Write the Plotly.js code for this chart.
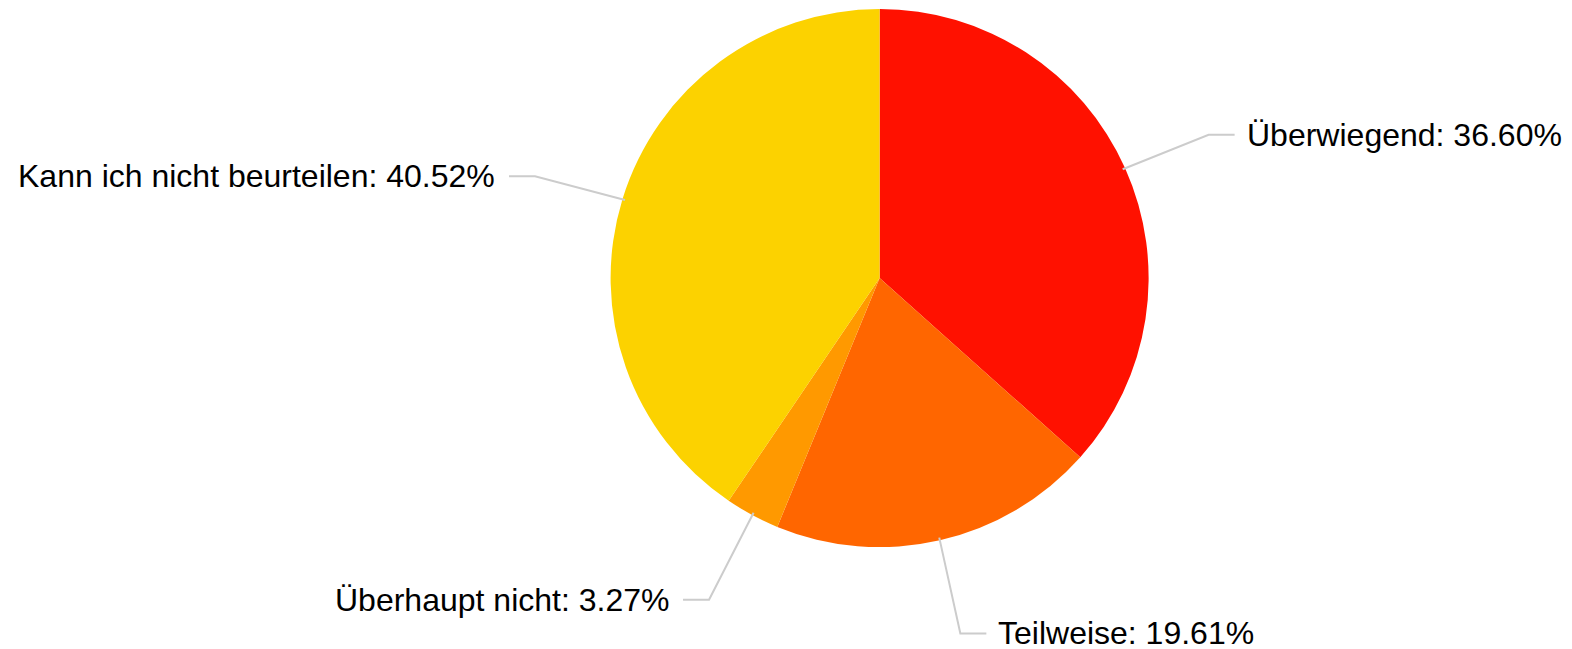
<!DOCTYPE html>
<html>
<head>
<meta charset="utf-8">
<script src="https://cdn.plot.ly/plotly-3.0.1.min.js"></script>
<style>html,body{margin:0;padding:0;background:#fff;}#chart{width:1572px;height:649px;}</style>
</head>
<body>
<div id="chart"></div>
<script>
const labels = ["Überwiegend", "Teilweise", "Überhaupt nicht", "Kann ich nicht beurteilen"];
const values = [36.60, 19.61, 3.27, 40.52];
const colors = ["#FF1100", "#FF6600", "#FF9900", "#FCD200"];

const W = 1572, H = 649;
const domX = [0.3884, 0.7307];
const domY = [0.157, 0.986];

// pie geometry in pixels (derived from domain)
const cx = (domX[0] + domX[1]) / 2 * W;
const cy = (1 - (domY[0] + domY[1]) / 2) * H;
const R = Math.min((domX[1] - domX[0]) * W, (domY[1] - domY[0]) * H) / 2;

const total = values.reduce((a, b) => a + b, 0);
const shapes = [];
const annotations = [];
let cum = 0;
values.forEach((v, i) => {
  const mid = (cum + v / 2) / total * 2 * Math.PI;
  cum += v;
  const sx = Math.sin(mid), sy = Math.cos(mid);
  const p0 = [cx + R * 0.99 * sx, cy - R * 0.99 * sy];
  const p1 = [cx + R * 1.34 * sx, cy - R * 1.34 * sy + 4];
  const right = sx >= 0;
  const p2 = [p1[0] + (right ? 26 : -26), p1[1]];
  const tx = p2[0] + (right ? 10 : -12);
  const toP = p => [(p[0] / W).toFixed(5), (1 - p[1] / H).toFixed(5)];
  const a = toP(p0), b = toP(p1), c = toP(p2);
  shapes.push({
    type: 'path', xref: 'paper', yref: 'paper',
    path: `M ${a[0]},${a[1]} L ${b[0]},${b[1]} L ${c[0]},${c[1]}`,
    line: {color: '#cccccc', width: 2}
  });
  annotations.push({
    xref: 'paper', yref: 'paper',
    x: tx / W, y: 1 - p1[1] / H,
    xanchor: right ? 'left' : 'right', yanchor: 'middle',
    text: labels[i] + ': ' + v.toFixed(2) + '%',
    showarrow: false,
    font: {family: 'Liberation Sans, Arial, sans-serif', size: 32, color: '#000000'}
  });
});

const data = [{
  type: 'pie',
  labels: labels,
  values: values,
  marker: {colors: colors, line: {width: 0}},
  sort: false,
  direction: 'clockwise',
  rotation: 0,
  textinfo: 'none',
  hoverinfo: 'skip',
  domain: {x: domX, y: domY}
}];

const layout = {
  width: W, height: H,
  margin: {l: 0, r: 0, t: 0, b: 0},
  paper_bgcolor: '#ffffff',
  plot_bgcolor: '#ffffff',
  showlegend: false,
  shapes: shapes,
  annotations: annotations
};

Plotly.newPlot('chart', data, layout, {displayModeBar: false, staticPlot: true});
</script>
</body>
</html>
